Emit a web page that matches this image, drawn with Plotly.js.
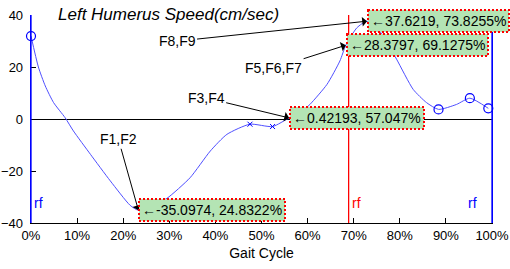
<!DOCTYPE html>
<html>
<head>
<meta charset="utf-8">
<script src="https://cdn.plot.ly/plotly-3.0.1.min.js"></script>
<style>
html,body{margin:0;padding:0;background:#fff;}
#chart{width:510px;height:269px;}
.annotation rect.bg{stroke-dasharray:2 2;}
</style>
</head>
<body>
<div id="chart"></div>
<script>
// ---- data ----
const gaitPct = [0, 1.6, 3.1, 4.9, 7.4, 9.2, 12.9, 17.2, 21.5, 23.3, 26.5, 29.5, 34.5, 38.9, 42.5, 47.5, 52.4, 56.0, 58.5, 60.5, 64.2, 67.0, 68.3, 70.7, 72.9, 76.0, 79.3, 82.9, 85.8, 88.4, 92.3, 95.2, 99.2];
const speed   = [31.9, 20.0, 12.7, 6.3, 0.5, -4.6, -13.6, -23.8, -33.2, -35.1, -33.2, -30.5, -22.6, -12.3, -5.9, -2.0, -2.9, 0.42, 2.5, 5.6, 13.3, 22.3, 28.4, 35.1, 37.6, 33.0, 23.0, 11.4, 6.3, 3.7, 5.6, 8.0, 4.1];
const circleX = [0, 88.4, 95.2, 99.2];
const circleY = [31.9, 3.7, 8.0, 4.1];
const crossX  = [47.5, 52.4];
const crossY  = [-2.0, -2.9];

const eventNames = ['F1,F2', 'F3,F4', 'F5,F6,F7', 'F8,F9'];
const eventX     = [23.3, 56.0, 68.3, 72.9];
const eventY     = [-35.0974, 0.42193, 28.3797, 37.6219];
const eventPct   = ['24.8322%', '57.047%', '69.1275%', '73.8255%'];

const rfX      = [0, 68.9, 100];
const rfColors = ['#0000ff', '#ff0000', '#0000ff'];
const rfLabelX = [1.6, 70.6, 95.8];

const xTicks = [0,10,20,30,40,50,60,70,80,90,100];
const yTicks = [-40,-20,0,20,40];

// ---- styling ----
const FONT = '"Liberation Sans", Arial, sans-serif';
const labelOffsets = [[-20,-71],[-83,-20],[-72,23],[-190,20]];

const traces = [
  {x: gaitPct, y: speed, type: 'scatter', mode: 'lines',
   line: {color: '#4f4fff', width: 1, shape: 'spline', smoothing: 0.6},
   hoverinfo: 'skip', cliponaxis: false},
  {x: circleX, y: circleY, type: 'scatter', mode: 'markers',
   marker: {symbol: 'circle-open', size: 9, color: '#0000ff', line: {width: 1.2}},
   cliponaxis: false},
  {x: crossX, y: crossY, type: 'scatter', mode: 'markers',
   marker: {symbol: 'x-thin-open', size: 5, color: '#0000ff', line: {width: 1}},
   cliponaxis: false}
];

const shapes = rfX.map((xv, i) => ({
  type: 'line', xref: 'x', yref: 'y', x0: xv, x1: xv, y0: -40, y1: 40,
  line: {color: rfColors[i], width: 1.3}, layer: 'above'
}));

const annotations = [];
eventNames.forEach((name, i) => {
  annotations.push({
    x: eventX[i], y: eventY[i], xref: 'x', yref: 'y',
    text: name, showarrow: true, arrowhead: 1, arrowsize: 1.6, arrowwidth: 1,
    arrowcolor: '#000', standoff: 0, ax: labelOffsets[i][0], ay: labelOffsets[i][1],
    font: {family: FONT, size: 14, color: '#000'}
  });
});
eventNames.forEach((name, i) => {
  annotations.push({
    x: eventX[i], y: eventY[i], xref: 'x', yref: 'y',
    xanchor: 'left', yanchor: 'middle', showarrow: false,
    text: '\u2190' + eventY[i] + ', ' + eventPct[i],
    bgcolor: '#b4e4b4', bordercolor: '#ff0000', borderwidth: 2, borderpad: 2,
    font: {family: FONT, size: 14, color: '#000'}
  });
});
rfLabelX.forEach((xv, i) => {
  annotations.push({
    x: xv, y: -32.3, xref: 'x', yref: 'y', text: 'rf', showarrow: false,
    xanchor: 'center', yanchor: 'middle',
    font: {family: FONT, size: 14, color: rfColors[i]}
  });
});

const layout = {
  width: 510, height: 269,
  margin: {l: 31, r: 18, t: 15, b: 46, pad: 0},
  paper_bgcolor: '#fff', plot_bgcolor: '#fff',
  showlegend: false,
  font: {family: FONT, size: 13, color: '#000'},
  title: {text: 'Left Humerus Speed(cm/sec)', xref: 'container', yref: 'container',
          x: 58/510, xanchor: 'left', y: 1 - 14/269, yanchor: 'middle',
          font: {family: FONT, size: 17, style: 'italic', color: '#000'}},
  xaxis: {range: [0, 100], tickvals: xTicks, ticktext: xTicks.map(v => v + '%'),
          ticks: 'inside', ticklen: 5, tickcolor: '#000', showgrid: false, zeroline: false,
          showline: true, linecolor: '#000', linewidth: 1, mirror: false,
          tickfont: {family: FONT, size: 13},
          title: {text: 'Gait Cycle', standoff: 6, font: {family: FONT, size: 14}}},
  yaxis: {range: [-40, 40], tickvals: yTicks, ticks: 'inside', ticklen: 5, tickcolor: '#000',
          showgrid: false, zeroline: true, zerolinecolor: '#000', zerolinewidth: 1,
          showline: true, linecolor: '#0000ff', linewidth: 1.3, mirror: true,
          ticklabelstandoff: 4,
          tickfont: {family: FONT, size: 13}},
  shapes: shapes,
  annotations: annotations
};

Plotly.newPlot('chart', traces, layout, {displayModeBar: false, staticPlot: true});
</script>
</body>
</html>
